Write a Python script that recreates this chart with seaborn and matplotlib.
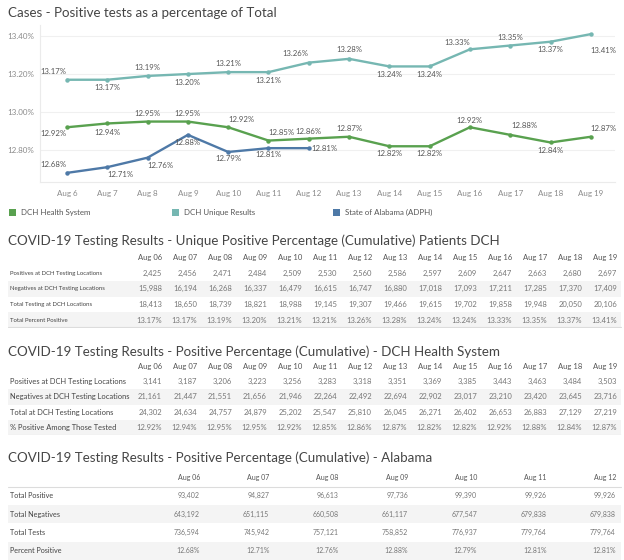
import matplotlib
matplotlib.use("Agg")
import matplotlib.pyplot as plt
from matplotlib.patches import Rectangle
import seaborn as sns
import pandas as pd

# ---------------- data ----------------
dates = ["Aug 6", "Aug 7", "Aug 8", "Aug 9", "Aug 10", "Aug 11", "Aug 12",
         "Aug 13", "Aug 14", "Aug 15", "Aug 16", "Aug 17", "Aug 18", "Aug 19"]
unique_pct = [13.17, 13.17, 13.19, 13.20, 13.21, 13.21, 13.26, 13.28, 13.24, 13.24, 13.33, 13.35, 13.37, 13.41]
health_pct = [12.92, 12.94, 12.95, 12.95, 12.92, 12.85, 12.86, 12.87, 12.82, 12.82, 12.92, 12.88, 12.84, 12.87]
alabama_pct = [12.68, 12.71, 12.76, 12.88, 12.79, 12.81, 12.81]
series_names = ["DCH Health System", "DCH Unique Results", "State of Alabama (ADPH)"]
y_ticks = [12.80, 13.00, 13.20, 13.40]

t1_cols = ["Aug 06", "Aug 07", "Aug 08", "Aug 09", "Aug 10", "Aug 11", "Aug 12",
           "Aug 13", "Aug 14", "Aug 15", "Aug 16", "Aug 17", "Aug 18", "Aug 19"]
t1_rows = ["Positives at DCH Testing Locations", "Negatives at DCH Testing Locations",
           "Total Testing at DCH Locations", "Total Percent Positive"]
t1_pos = [2425, 2456, 2471, 2484, 2509, 2530, 2560, 2586, 2597, 2609, 2647, 2663, 2680, 2697]
t1_neg = [15988, 16194, 16268, 16337, 16479, 16615, 16747, 16880, 17018, 17093, 17211, 17285, 17370, 17409]
t1_tot = [18413, 18650, 18739, 18821, 18988, 19145, 19307, 19466, 19615, 19702, 19858, 19948, 20050, 20106]

t2_rows = ["Positives at DCH Testing Locations", "Negatives at DCH Testing Locations",
           "Total at DCH Testing Locations", "% Positive Among Those Tested"]
t2_pos = [3141, 3187, 3206, 3223, 3256, 3283, 3318, 3351, 3369, 3385, 3443, 3463, 3484, 3503]
t2_neg = [21161, 21447, 21551, 21656, 21946, 22264, 22492, 22694, 22902, 23017, 23210, 23420, 23645, 23716]
t2_tot = [24302, 24634, 24757, 24879, 25202, 25547, 25810, 26045, 26271, 26402, 26653, 26883, 27129, 27219]

t3_cols = ["Aug 06", "Aug 07", "Aug 08", "Aug 09", "Aug 10", "Aug 11", "Aug 12"]
t3_rows = ["Total Positive", "Total Negatives", "Total Tests", "Percent Positive"]
t3_pos = [93402, 94827, 96613, 97736, 99390, 99926, 99926]
t3_neg = [643192, 651115, 660508, 661117, 677547, 679838, 679838]
t3_tot = [736594, 745942, 757121, 758852, 776937, 779764, 779764]

title_main = "Cases - Positive tests as a percentage of Total"
title_t1 = "COVID-19 Testing Results - Unique Positive Percentage (Cumulative) Patients DCH"
title_t2 = "COVID-19 Testing Results - Positive Percentage (Cumulative) - DCH Health System"
title_t3 = "COVID-19 Testing Results - Positive Percentage (Cumulative) - Alabama"

# ---------------- styling ----------------
colors = {"DCH Health System": "#59a14f", "DCH Unique Results": "#76b7b2",
          "State of Alabama (ADPH)": "#4e79a7"}
# label offsets in pixels (dx, dy with dy downward)
off_unique = [(-14, -8), (0, 8), (0, -8), (0, 8), (0, -9), (0, 8), (-13, -9), (0, -9),
              (0, 8), (0, 8), (-13, -7), (0, -8), (0, 8), (13, 16)]
off_health = [(-14, 6), (0, 9), (0, -8), (0, -8), (13, -8), (13, -8), (0, -7), (0, -8),
              (0, 7), (0, 7), (0, -7), (14, -9), (0, 8), (13, -8)]
off_alabama = [(-14, -8), (13, 7), (13, 8), (0, 8), (0, 7), (0, 6), (16, 0)]

sns.set_theme(style="white")
plt.rcParams['font.family'] = ['Lato', 'DejaVu Sans']

W, H = 624, 560
fig = plt.figure(figsize=(W / 100, H / 100), dpi=100)
fig.patch.set_facecolor("white")

TITLE_KW = dict(fontsize=9.6, color="#454545", va="center", ha="left")


def px_axes(left, top, right, bottom):
    return fig.add_axes([left / W, 1 - bottom / H, (right - left) / W, (bottom - top) / H])


# ---------------- line chart ----------------
ax = px_axes(40, 25, 615, 182)
rows = []
for name, vals in zip(series_names, [health_pct, unique_pct, alabama_pct]):
    for i, v in enumerate(vals):
        rows.append({"idx": i, "value": v, "series": name})
df = pd.DataFrame(rows)
sns.lineplot(data=df, x="idx", y="value", hue="series", palette=colors, marker="o",
             markersize=3.2, markeredgewidth=0, linewidth=1.7, ax=ax, legend=False)

for vals, offs in [(unique_pct, off_unique), (health_pct, off_health), (alabama_pct, off_alabama)]:
    for i, v in enumerate(vals):
        dx, dy = offs[i]
        ax.annotate(f"{v:.2f}%", (i, v), xytext=(dx, -dy), textcoords="offset pixels",
                    ha="center", va="center", fontsize=5.6, color="#555555")

ax.set_xlim(-0.67, 13.6)
ax.set_ylim(12.632, 13.458)
ax.set_xticks(range(len(dates)))
ax.set_xticklabels(dates)
ax.set_yticks(y_ticks)
ax.set_yticklabels([f"{t:.2f}%" for t in y_ticks])
ax.tick_params(axis="both", length=0, labelsize=5.8, labelcolor="#8a8a8a")
ax.tick_params(axis="x", pad=6)
ax.tick_params(axis="y", pad=4)
ax.set_xlabel("")
ax.set_ylabel("")
ax.grid(axis="y", color="#f0f0f0", linewidth=0.8)
ax.grid(axis="x", visible=False)
for s in ["top", "right"]:
    ax.spines[s].set_visible(False)
for s in ["left", "bottom"]:
    ax.spines[s].set_color("#ebebeb")
    ax.spines[s].set_linewidth(0.8)

fig.text(8 / W, 1 - 13 / H, title_main, **TITLE_KW)

# legend
leg_x = [9, 172, 333]
for x0, name in zip(leg_x, series_names):
    fig.patches.append(Rectangle((x0 / W, 1 - 215.5 / H), 7 / W, 7 / H, transform=fig.transFigure,
                                 facecolor=colors[name], edgecolor="none"))
    fig.text((x0 + 12) / W, 1 - 212 / H, name, fontsize=5.7, color="#555555", va="center", ha="left")


# ---------------- tables ----------------
def draw_table(title, title_y, cols, row_labels, data, col0, step, header_y, row_step,
               label_size, num_size, head_size, header_line=False, bottom_line=True,
               band_rows=(2, 4)):
    n = len(row_labels)
    top = header_y - row_step / 2
    bottom = header_y + (n + 0.5) * row_step
    tax = px_axes(0, top, W, bottom)
    tax.set_xlim((0 - col0) / step, (W - col0) / step)
    tax.set_ylim(n + 0.5, -0.5)
    tax.axis("off")
    x_lab = (10 - col0) / step
    x_l = (8 - col0) / step
    x_r = (621 - col0) / step
    for r in band_rows:
        tax.add_patch(Rectangle((x_l, r - 0.5), x_r - x_l, 1, facecolor="#f4f4f4", edgecolor="none"))
    if header_line:
        tax.plot([x_l, x_r], [0.5, 0.5], color="#dcdcdc", linewidth=0.8)
    if bottom_line:
        tax.plot([x_l, x_r], [n + 0.45, n + 0.45], color="#dcdcdc", linewidth=0.8)
    for i, c in enumerate(cols):
        tax.text(i, 0, c, ha="right", va="center", fontsize=head_size, color="#555555")
    for r, lab in enumerate(row_labels, start=1):
        tax.text(x_lab, r, lab, ha="left", va="center", fontsize=label_size, color="#444444")
        vals, kind = data[r - 1]
        for i, v in enumerate(vals):
            s = f"{v:.2f}%" if kind == "pct" else f"{v:,}"
            tax.text(i, r, s, ha="right", va="center", fontsize=num_size, color="#777777")
    fig.text(8 / W, 1 - title_y / H, title, **TITLE_KW)


draw_table(title_t1, 241, t1_cols, t1_rows,
           [(t1_pos, "n"), (t1_neg, "n"), (t1_tot, "n"), (unique_pct, "pct")],
           col0=162, step=35, header_y=257.5, row_step=15.7,
           label_size=4.3, num_size=5.5, head_size=5.5)
draw_table(title_t2, 352, t1_cols, t2_rows,
           [(t2_pos, "n"), (t2_neg, "n"), (t2_tot, "n"), (health_pct, "pct")],
           col0=162, step=35, header_y=366, row_step=15.4,
           label_size=5.4, num_size=5.5, head_size=5.5)
draw_table(title_t3, 458, t3_cols, t3_rows,
           [(t3_pos, "n"), (t3_neg, "n"), (t3_tot, "n"), (alabama_pct, "pct")],
           col0=200, step=69.3, header_y=477.5, row_step=18.3,
           label_size=5.2, num_size=5.0, head_size=5.0, header_line=True, bottom_line=False)

fig.savefig("out.png", dpi=100, facecolor="white")
